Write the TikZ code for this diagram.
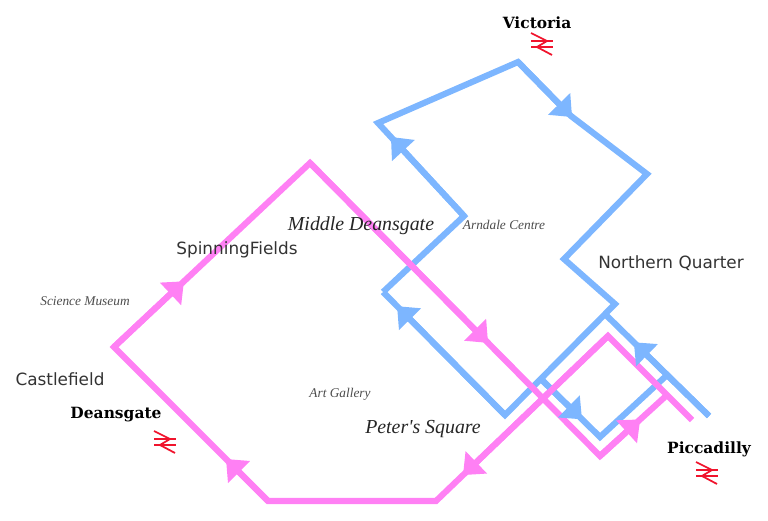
\documentclass[tikz,border=0pt]{standalone}
\usepackage{fontspec}
\usetikzlibrary{arrows.meta,calc}
\newfontfamily\stationfont{DejaVu Serif}
\newfontfamily\areafont{DejaVu Sans}
\newfontfamily\placefont{Liberation Serif}
\definecolor{tramblue}{HTML}{7DB6FF}
\definecolor{trampink}{HTML}{FF80F4}
\definecolor{railred}{HTML}{F0142D}
\tikzset{
	x=0.02cm,y=-0.02cm,
	blueline/.style={draw=tramblue,line width=3.5pt,line join=miter},
	pinkline/.style={draw=trampink,line width=3.5pt,line join=miter},
	bluetip/.style={blueline,-{Triangle[length=10.5pt,width=17pt,fill=tramblue]}},
	pinktip/.style={pinkline,-{Triangle[length=10.5pt,width=17pt,fill=trampink]}},
	station/.style={font=\stationfont\bfseries\fontsize{8.8}{10}\selectfont,text=black,inner sep=0pt},
	area/.style={font=\areafont\fontsize{9.6}{11}\selectfont,text=black!80,inner sep=0pt},
	stop/.style={font=\placefont\itshape\fontsize{11.3}{13}\selectfont,text=black!85,inner sep=0pt},
	place/.style={font=\placefont\itshape\fontsize{7.6}{9}\selectfont,text=black!70,inner sep=0pt},
	railsign/.pic={
		\draw[railred,line width=1pt] (-11,-3) -- (11,-3);
		\draw[railred,line width=1pt] (-11,3) -- (11,3);
		\draw[railred,line width=1pt] (-11,-11) -- (5,-3) -- (-5,3) -- (10,11);
	}
}
\begin{document}
\begin{tikzpicture}
	\useasboundingbox (0,0) rectangle (768,521);
	\coordinate (b1) at (709,416);
	\coordinate (b2) at (606,315);
	\coordinate (b3) at (505,415);
	\coordinate (b4) at (615,304);
	\coordinate (b5) at (564,259);
	\coordinate (b6) at (647,174);
	\coordinate (b7) at (571,116);
	\coordinate (b8) at (518,62);
	\coordinate (b9) at (378,123);
	\coordinate (b10) at (464,216);
	\coordinate (b11) at (383,292);
	\coordinate (b12) at (542,380);
	\coordinate (b13) at (600,437);
	\coordinate (b14) at (666,376);
	\coordinate (p1) at (692,420);
	\coordinate (p2) at (608,336);
	\coordinate (p3) at (436,501);
	\coordinate (p4) at (268,501);
	\coordinate (p5) at (114,347);
	\coordinate (p6) at (310,163);
	\coordinate (p7) at (600,456);
	\coordinate (p8) at (667,395);
	\draw[blueline] (b1) -- (b2);
	\draw[blueline] (b11) -- (b3) -- (b4) -- (b5) -- (b6) -- (b7) -- (b8) -- (b9) -- (b10) -- (b11);
	\draw[blueline] (b12) -- (b13) -- (b14);
	\draw[pinkline] (p1) -- (p2) -- (p3) -- (p4) -- (p5) -- (p6) -- (p7) -- (p8);
	\foreach \from/\to/\where in {b8/b7/1.02,b10/b9/0.85,b3/b11/0.885,b12/b13/0.69,b1/b2/0.73}
		\draw[bluetip] (\from) -- ($(\from)!\where!(\to)$);
	\foreach \from/\to/\where in {p5/p6/0.357,p4/p5/0.273,p6/p7/0.614,p2/p3/0.843,p7/p8/0.6}
		\draw[pinktip] (\from) -- ($(\from)!\where!(\to)$);
	\node[station] (victoria) at (537,23) {Victoria};
	\node[station] (deansgate) at (116,415) {Deansgate};
	\node[station] (piccadilly) at (709,449) {Piccadilly};
	\pic at (542,44) {railsign};
	\pic at (165,442) {railsign};
	\pic at (707,473) {railsign};
	\node[area] (castlefield) at (60,379) {Castlefield};
	\node[area] (spinning) at (237,250) {SpinningFields};
	\node[area] (northern) at (671,263) {Northern Quarter};
	\node[stop] (middle) at (361,226) {Middle Deansgate};
	\node[stop] (peters) at (423,429) {Peter's Square};
	\node[place] (arndale) at (504,225) {Arndale Centre};
	\node[place] (science) at (85,301) {Science Museum};
	\node[place] (gallery) at (340,394) {Art Gallery};
\end{tikzpicture}
\end{document}
